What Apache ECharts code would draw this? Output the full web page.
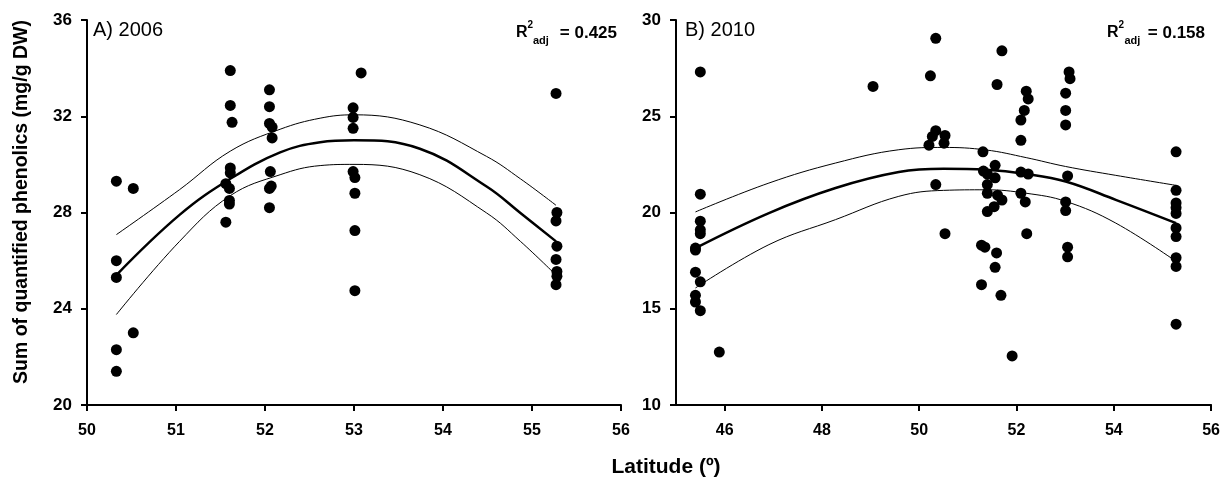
<!DOCTYPE html>
<html>
<head>
<meta charset="utf-8">
<script src="https://cdn.jsdelivr.net/npm/echarts@6/dist/echarts.min.js"></script>
<style>
  html, body { margin: 0; padding: 0; background: #fff; }
  #chart { width: 1223px; height: 478px; }
</style>
</head>
<body>
<div id="chart"></div>
<script>
// Panel A (2006): sampling latitude and summed phenolics (mg/g DW)
const latA = [50.33, 50.33, 50.33, 50.33, 50.33, 50.52, 50.52,
  51.61, 51.61, 51.63, 51.61, 51.61, 51.56, 51.60, 51.60, 51.60, 51.56,
  52.05, 52.05, 52.05, 52.08, 52.08, 52.06, 52.07, 52.05, 52.05,
  53.08, 52.99, 52.99, 52.99, 52.99, 53.01, 53.01, 53.01, 53.01,
  55.27, 55.28, 55.27, 55.28, 55.27, 55.28, 55.28, 55.27];
const phenA = [29.3, 26.0, 25.3, 22.3, 21.4, 29.0, 23.0,
  33.9, 32.45, 31.75, 29.85, 29.65, 29.2, 29.0, 28.5, 28.35, 27.6,
  33.1, 32.4, 31.7, 31.55, 31.1, 29.7, 29.1, 29.0, 28.2,
  33.8, 32.35, 31.95, 31.5, 29.7, 29.45, 28.8, 27.25, 24.75,
  32.95, 28.0, 27.65, 26.6, 26.05, 25.55, 25.35, 25.0];

// Panel A quadratic fit with its confidence band
const fitLatA   = [50.33, 51.04, 51.61, 52.17, 52.62, 53.0, 53.74, 54.49, 54.87, 55.27];
const fitA      = [25.4, 27.9, 29.4, 30.5, 30.92, 31.0, 30.65, 29.08, 27.98, 26.8];
const fitUpperA = [27.08, 28.95, 30.55, 31.46, 31.92, 32.06, 31.64, 30.33, 29.4, 28.3];
const fitLowerA = [23.76, 26.8, 28.7, 29.57, 29.95, 30.0, 29.57, 27.98, 26.8, 25.4];

// Panel B (2010)
const latB = [45.50, 45.50, 45.50, 45.50, 45.50, 45.50, 45.50,
  45.40, 45.40, 45.40, 45.40, 45.40, 45.89, 49.05,
  50.34, 50.23, 50.34, 50.27, 50.53, 50.51, 50.20, 50.34, 50.53,
  51.70, 51.60, 51.31, 51.56, 51.32, 51.40, 51.56, 51.40, 51.40, 51.61, 51.70,
  51.54, 51.40, 51.28, 51.35, 51.59, 51.56, 51.28, 51.68, 51.91,
  52.20, 52.24, 52.16, 52.09, 52.09, 52.09, 52.24, 52.09, 52.18, 52.21,
  53.08, 53.10, 53.01, 53.01, 53.01, 53.05, 53.01, 53.01, 53.05, 53.05,
  55.28, 55.28, 55.28, 55.28, 55.28, 55.28, 55.28, 55.28, 55.28, 55.28];
const phenB = [27.3, 20.95, 19.55, 19.1, 18.9, 16.4, 14.9,
  18.15, 18.05, 16.9, 15.7, 15.35, 12.75, 26.55,
  29.05, 27.1, 24.25, 23.95, 24.0, 23.6, 23.5, 21.45, 18.9,
  28.4, 26.65, 23.15, 22.45, 22.15, 22.0, 21.8, 21.45, 21.0, 20.9, 20.65,
  20.3, 20.05, 18.3, 18.2, 17.9, 17.15, 16.25, 15.7, 12.55,
  26.3, 25.9, 25.3, 24.8, 23.75, 22.1, 22.0, 21.0, 20.55, 18.9,
  27.3, 26.95, 26.2, 25.3, 24.55, 21.9, 20.55, 20.1, 18.2, 17.7,
  23.15, 21.15, 20.5, 20.25, 19.95, 19.2, 18.75, 17.65, 17.2, 14.2];

// Panel B quadratic fit with its confidence band
const fitLatB   = [45.4, 46.91, 48.28, 49.58, 50.5, 51.37, 52.2, 53.01, 54.04, 55.28];
const fitB      = [18.15, 19.97, 21.27, 22.1, 22.27, 22.22, 22.0, 21.61, 20.66, 19.45];
const fitUpperB = [20.03, 21.53, 22.57, 23.26, 23.38, 23.25, 22.85, 22.39, 21.93, 21.41];
const fitLowerB = [16.08, 18.33, 19.63, 20.84, 21.15, 21.18, 21.0, 20.58, 19.45, 17.46];

// Axis ticks
const yTicksA = [20, 24, 28, 32, 36];
const xTicksA = [50, 51, 52, 53, 54, 55, 56];
const yTicksB = [10, 15, 20, 25, 30];
const xTicksB = [46, 48, 50, 52, 54, 56];

const pairs = (xs, ys) => xs.map((x, i) => [x, ys[i]]);

const FONT = '"Liberation Sans", Arial, sans-serif';
const axisLineStyle = { lineStyle: { color: '#000', width: 2 } };
const tickStyle = { show: true, inside: false, length: 6, lineStyle: { color: '#000', width: 2 } };
const xLabel = { color: '#000', fontFamily: FONT, fontWeight: 'bold', fontSize: 16, margin: 18 };
const yLabel = { color: '#000', fontFamily: FONT, fontWeight: 'bold', fontSize: 17, margin: 15 };

function scatter(xi, xs, ys) {
  return {
    type: 'scatter', xAxisIndex: xi, yAxisIndex: xi,
    data: pairs(xs, ys), symbolSize: 11, z: 5,
    itemStyle: { color: '#000', opacity: 1 }, silent: true
  };
}
function fitLine(xi, xs, ys, w) {
  return {
    type: 'line', xAxisIndex: xi, yAxisIndex: xi,
    data: pairs(xs, ys), smooth: 0.4, showSymbol: false, symbol: 'none', z: 3,
    lineStyle: { color: '#000', width: w }, silent: true
  };
}

const chart = echarts.init(document.getElementById('chart'), null, { renderer: 'canvas' });

function txt(x, y, text, size, weight, align, extra) {
  return Object.assign({
    type: 'text', x: x, y: y, silent: true,
    style: {
      text: text, fill: '#000', textAlign: align || 'left', textVerticalAlign: 'middle',
      font: (weight || 'normal') + ' ' + size + 'px ' + FONT
    }
  }, extra || {});
}

chart.setOption({
  animation: false,
  backgroundColor: '#fff',
  grid: [
    { left: 87, right: 602, top: 20, bottom: 73 },
    { left: 676, right: 11.5, top: 20, bottom: 73 }
  ],
  xAxis: [
    {
      gridIndex: 0, type: 'value', min: xTicksA[0], max: xTicksA[xTicksA.length - 1], interval: 1,
      axisLine: axisLineStyle, axisTick: tickStyle, splitLine: { show: false },
      axisLabel: xLabel
    },
    {
      gridIndex: 1, type: 'value', min: 45, max: xTicksB[xTicksB.length - 1],
      axisLine: axisLineStyle,
      axisTick: Object.assign({ customValues: xTicksB }, tickStyle),
      splitLine: { show: false },
      axisLabel: Object.assign({ customValues: xTicksB }, xLabel)
    }
  ],
  yAxis: [
    {
      gridIndex: 0, type: 'value', min: yTicksA[0], max: yTicksA[yTicksA.length - 1], interval: 4,
      axisLine: Object.assign({ show: true }, axisLineStyle), axisTick: tickStyle,
      splitLine: { show: false }, axisLabel: yLabel
    },
    {
      gridIndex: 1, type: 'value', min: yTicksB[0], max: yTicksB[yTicksB.length - 1], interval: 5,
      axisLine: Object.assign({ show: true }, axisLineStyle), axisTick: tickStyle,
      splitLine: { show: false }, axisLabel: yLabel
    }
  ],
  series: [
    fitLine(0, fitLatA, fitUpperA, 1),
    fitLine(0, fitLatA, fitLowerA, 1),
    fitLine(0, fitLatA, fitA, 2.5),
    scatter(0, latA, phenA),
    fitLine(1, fitLatB, fitUpperB, 1),
    fitLine(1, fitLatB, fitLowerB, 1),
    fitLine(1, fitLatB, fitB, 2.5),
    scatter(1, latB, phenB)
  ],
  graphic: [
    // panel captions
    txt(93, 30, 'A) 2006', 20, 'normal'),
    txt(685, 30, 'B) 2010', 20, 'normal'),
    // adjusted R² for panel A
    txt(516, 33, 'R', 16, 'bold'),
    txt(527.5, 25, '2', 10, 'bold'),
    txt(533, 41, 'adj', 11, 'bold'),
    txt(617, 33, '= 0.425', 17, 'bold', 'right'),
    // adjusted R² for panel B
    txt(1107, 33, 'R', 16, 'bold'),
    txt(1118.5, 25, '2', 10, 'bold'),
    txt(1124.5, 41, 'adj', 11, 'bold'),
    txt(1205, 33, '= 0.158', 17, 'bold', 'right'),
    // axis titles
    txt(22, 202, 'Sum of quantified phenolics (mg/g DW)', 19.5, 'bold', 'center', { rotation: Math.PI / 2 }),
    txt(666, 467, 'Latitude (º)', 21, 'bold', 'center')
  ]
});
</script>
</body>
</html>
